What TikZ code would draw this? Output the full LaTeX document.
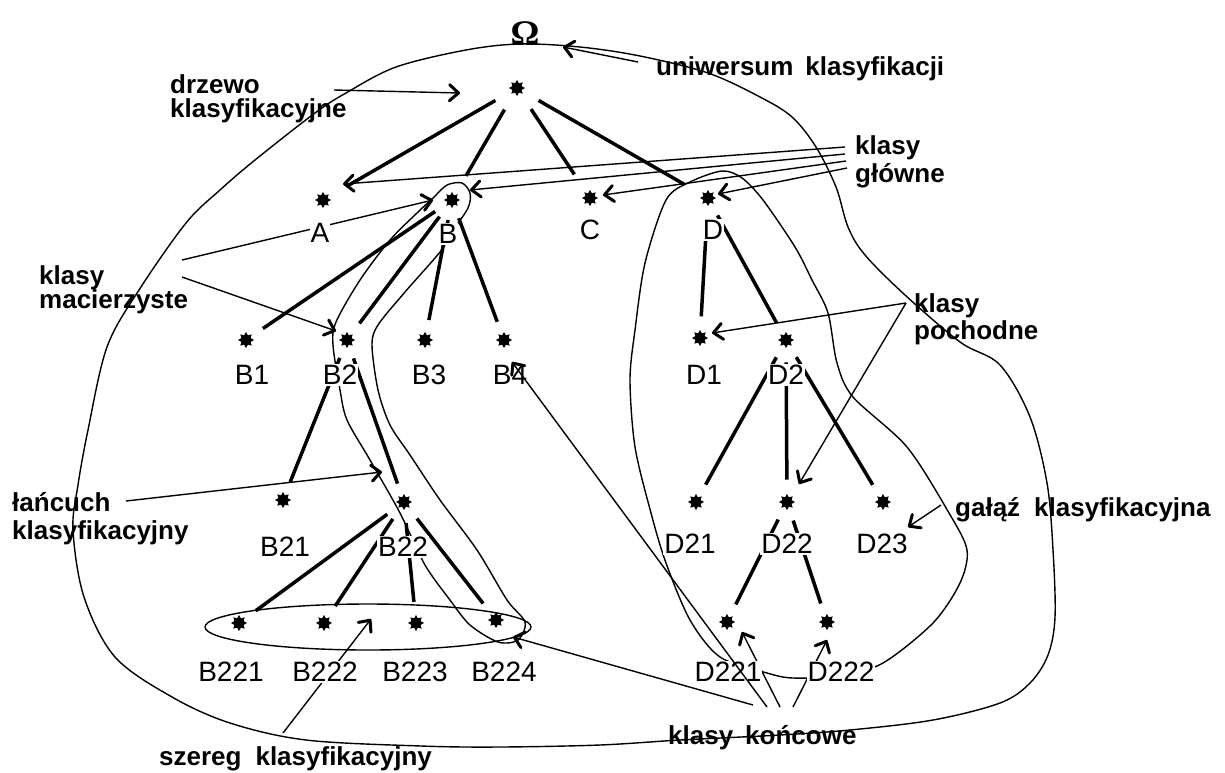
\documentclass[tikz,border=0pt]{standalone}
\usepackage{fontspec}
\setmainfont{Liberation Sans}
\newfontfamily\omegafont{Liberation Serif}
\usetikzlibrary{shapes.geometric,arrows.meta}
\begin{document}
\begin{tikzpicture}[x=1pt,y=-1pt,
  st/.style={star,star points=8,star point ratio=1.6,fill=black,draw=none,inner sep=0pt,minimum size=16pt},
  lab/.style={font=\fontsize{28}{30}\selectfont,fill=white,inner sep=1pt},
  ann/.style={font=\fontsize{26}{26}\selectfont\bfseries,anchor=base west,inner sep=0pt},
  edgeline/.style={line width=3.5pt,shorten <=14pt,shorten >=14pt},
  rootedge/.style={line width=3.5pt,shorten <=19pt,shorten >=22pt},
  thinline/.style={line width=1.4pt},
  tipstyle/.style={-{Straight Barb[length=9pt,width=16pt,line width=3pt,round]}},
  arr/.style={thinline,tipstyle},
]
\useasboundingbox (0,0) rectangle (1225,772);

% stars
\node[st] (root) at (517,88) {};
\node[st] (A) at (323,200) {};
\node[st] (B) at (452,200) {};
\node[st] (C) at (590,198) {};
\node[st] (D) at (708,198) {};
\node[st] (B1) at (246,340) {};
\node[st] (B2) at (347,340) {};
\node[st] (B3) at (425,340) {};
\node[st] (B4) at (504,340) {};
\node[st] (D1) at (700,338) {};
\node[st] (D2) at (786,340) {};
\node[st] (B21) at (283,500) {};
\node[st] (B22) at (404,502) {};
\node[st] (D21) at (696,502) {};
\node[st] (D22) at (787,502) {};
\node[st] (D23) at (883,502) {};
\node[st] (B221) at (239,623) {};
\node[st] (B222) at (324,623) {};
\node[st] (B223) at (416,623) {};
\node[st] (B224) at (496,620) {};
\node[st] (D221) at (727,622) {};
\node[st] (D222) at (827,622) {};

% outer universe curve
\draw[thinline] plot[smooth cycle, tension=0.55] coordinates {
 (520,44) (580,47) (640,56) (708,73) (760,97) (792,117) (816,147) (836,187)
 (848,227) (865,255) (905,295) (960,342) (1000,365) (1030,417) (1047,483)
 (1053,550) (1055,617) (1048,655) (1030,683) (1000,703) (933,720) (850,730)
 (780,735) (680,740) (600,745) (500,747) (421,746) (306,740) (230,723)
 (172,697) (115,657) (84,597) (73,530) (78,485) (88,430) (107,347) (139,290)
 (186,223) (220,190) (255,160) (315,113) (346,93) (396,67) (466,50)};

% chain loop
\draw[thinline] plot[smooth cycle, tension=0.5] coordinates {
 (447,185) (462,183) (470,193) (468,208) (452,232) (440,252) (405,292)
 (378,325) (372,345) (378,390) (390,425) (410,455) (440,500) (477,550)
 (507,600) (525,622) (518,640) (498,642) (470,625) (450,600) (425,565)
 (400,513) (370,460) (347,420) (340,390) (333,345) (336,322) (360,280)
 (390,240) (417,213) (433,198)};

% branch loop D
\draw[thinline] plot[smooth cycle, tension=0.5] coordinates {
 (722,171) (742,178) (763,200) (795,247) (812,280) (828,313) (837,363)
 (853,397) (907,447) (949,513) (967,550) (960,583) (933,623) (883,663)
 (840,676) (793,678) (767,673) (720,657) (690,620) (666,563) (651,513)
 (635,447) (630,380) (635,330) (645,263) (666,200) (690,182)};

% series ellipse
\draw[thinline] (368,627) ellipse [x radius=163pt, y radius=23pt];

% tree edges
\draw[rootedge] (root) -- (A);
\draw[rootedge] (root) -- (B);
\draw[rootedge] (root) -- (C);
\draw[rootedge] (root) -- (D);
\draw[edgeline] (B) -- (B1);
\draw[edgeline] (B) -- (B2);
\draw[edgeline] (B) -- (B3);
\draw[edgeline] (B) -- (B4);
\draw[edgeline] (B2) -- (B21);
\draw[edgeline] (B2) -- (B22);
\draw[edgeline] (B22) -- (B221);
\draw[edgeline] (B22) -- (B222);
\draw[edgeline] (B22) -- (B223);
\draw[edgeline] (B22) -- (B224);
\draw[edgeline] (D) -- (D1);
\draw[edgeline] (D) -- (D2);
\draw[edgeline] (D2) -- (D21);
\draw[edgeline] (D2) -- (D22);
\draw[edgeline] (D2) -- (D23);
\draw[edgeline] (D22) -- (D221);
\draw[edgeline] (D22) -- (D222);

% arrow end points
\coordinate (uS) at (638,62);   \coordinate (uT) at (563,47);
\coordinate (dS) at (334,90);   \coordinate (dT) at (460,93);
\coordinate (gS1) at (845,147); \coordinate (gA) at (343,184);
\coordinate (gS2) at (845,154); \coordinate (gB) at (470,190);
\coordinate (gS3) at (846,161); \coordinate (gC) at (603,195);
\coordinate (gS4) at (847,168); \coordinate (gD) at (718,194);
\coordinate (mS1) at (182,260); \coordinate (mB) at (433,200);
\coordinate (mS2) at (182,277); \coordinate (mB2) at (336,331);
\coordinate (lS) at (126,501);  \coordinate (lT) at (382,472);
\coordinate (sS) at (283,733);  \coordinate (sT) at (371,619);
\coordinate (pS) at (906,303);  \coordinate (pD1) at (712,333);
\coordinate (pD22) at (799,484);
\coordinate (gaS) at (941,505); \coordinate (gaT) at (908,527);
\coordinate (kS1) at (753,705); \coordinate (kB224) at (513,637);
\coordinate (kS2) at (767,707); \coordinate (kB4) at (512,362);
\coordinate (kS3) at (780,707); \coordinate (kD221) at (742,632);
\coordinate (kS4) at (793,707); \coordinate (kD222) at (827,640);

\draw[arr] (uS) -- (uT);
\draw[arr] (dS) -- (dT);
\draw[arr] (gS1) -- (gA);
\draw[arr] (gS2) -- (gB);
\draw[arr] (gS3) -- (gC);
\draw[arr] (gS4) -- (gD);
\draw[arr] (mS1) -- (mB);
\draw[arr] (mS2) -- (mB2);
\draw[arr] (lS) -- (lT);
\draw[arr] (sS) -- (sT);
\draw[arr] (pS) -- (pD1);
\draw[arr] (pS) -- (pD22);
\draw[arr] (gaS) -- (gaT);
\draw[arr] (kS1) -- (kB224);
\draw[arr] (kS3) -- (kD221);
\draw[arr] (kS4) -- (kD222);

% node labels
\node[lab] (lA) at (320,233) {A};
\node[lab] (lB) at (448,234) {B};
\node[lab] (lC) at (590,230) {C};
\node[lab] (lD) at (713,230) {D};
\node[lab] (lB1) at (252,375) {B1};
\node[lab] (lB2) at (340,375) {B2};
\node[lab] (lB3) at (429,375) {B3};
\node[lab] (lB4) at (510,375) {B4};
\node[lab] (lD1) at (704,375) {D1};
\node[lab] (lD2) at (786,375) {D2};
\node[lab] (lB21) at (285,547) {B21};
\node[lab] (lB22) at (403,547) {B22};
\node[lab] (lD21) at (690,544) {D21};
\node[lab] (lD22) at (787,544) {D22};
\node[lab] (lD23) at (882,544) {D23};
\node[lab] (lB221) at (231,672) {B221};
\node[lab] (lB222) at (325,672) {B222};
\node[lab] (lB223) at (415,672) {B223};
\node[lab] (lB224) at (504,672) {B224};
\node[lab] (lD221) at (728,672) {D221};
\node[lab] (lD222) at (841,672) {D222};

\draw[arr] (kS2) -- (kB4);

% annotations
\node[anchor=base, font=\omegafont\bfseries\fontsize{36}{36}\selectfont, inner sep=0pt] (om) at (525,45) {Ω};
\node[ann] (t1) at (170,93) {drzewo};
\node[ann] (t2) at (170,117) {klasyfikacyjne};
\node[ann] (t3) at (656,75) {uniwersum\hspace{12pt}klasyfikacji};
\node[ann] (t4) at (855,154) {klasy};
\node[ann] (t5) at (855,182) {główne};
\node[ann] (t6) at (39,284) {klasy};
\node[ann] (t7) at (39,308) {macierzyste};
\node[ann] (t8) at (914,312) {klasy};
\node[ann] (t9) at (914,339) {pochodne};
\node[ann] (t10) at (12,511) {łańcuch};
\node[ann] (t11) at (12,539) {klasyfikacyjny};
\node[ann] (t12) at (955,516) {gałąź\hspace{14pt}klasyfikacyjna};
\node[ann] (t13) at (159,765) {szereg\hspace{14pt}klasyfikacyjny};
\node[ann] (t14) at (668,744) {klasy\hspace{12pt}końcowe};
\end{tikzpicture}
\end{document}
